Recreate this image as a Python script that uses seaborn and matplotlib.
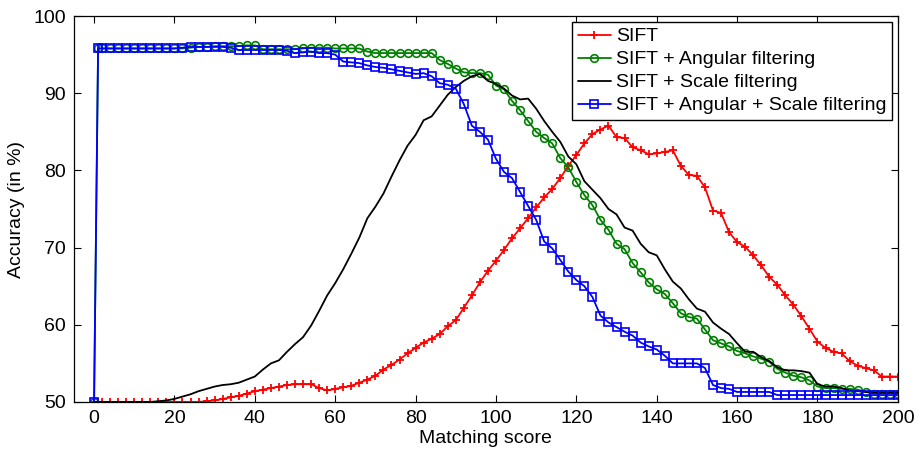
import matplotlib
matplotlib.use("Agg")
import matplotlib.pyplot as plt
import seaborn as sns

sns.set_style("ticks")
plt.rcParams['font.family'] = ['Liberation Sans', 'DejaVu Sans']
plt.rcParams['font.size'] = 14
plt.rcParams['text.color'] = 'black'
plt.rcParams['axes.labelcolor'] = 'black'
plt.rcParams['xtick.color'] = 'black'
plt.rcParams['ytick.color'] = 'black'

# matching score (x) and accuracy in % for each method
score = [0, 1] + list(range(2, 201, 2))

sift = [50.0, 50.0,
        50.0, 50.0, 50.0, 50.0, 50.0, 50.0, 50.0, 50.0, 50.0, 50.0,
        50.0, 50.0, 50.0, 50.1, 50.2, 50.4, 50.6, 50.8, 51.1, 51.4,
        51.6, 51.8, 52.0, 52.2, 52.3, 52.3, 52.3, 51.8, 51.5, 51.7,
        51.9, 52.1, 52.5, 52.9, 53.4, 54.2, 54.8, 55.5, 56.3, 57.0,
        57.7, 58.2, 58.8, 59.8, 60.6, 62.2, 63.8, 65.5, 67.0, 68.3,
        69.7, 71.2, 72.5, 73.8, 75.2, 76.5, 77.6, 79.0, 80.6, 82.0,
        83.5, 84.7, 85.3, 85.8, 84.3, 84.2, 83.0, 82.6, 82.1, 82.2,
        82.4, 82.6, 80.6, 79.4, 79.3, 77.8, 74.8, 74.5, 72.0, 70.7,
        70.1, 69.0, 67.7, 66.2, 65.2, 63.8, 62.6, 61.1, 59.5, 57.8,
        57.0, 56.5, 56.3, 55.3, 54.7, 54.4, 54.1, 53.3, 53.3, 53.3]

sift_angular = [50.0, 95.8,
                95.8, 95.8, 95.8, 95.8, 95.8, 95.8, 95.8, 95.8, 95.8, 95.8,
                95.8, 95.9, 96.0, 96.0, 96.1, 96.1, 96.1, 96.1, 96.2, 96.2,
                95.7, 95.7, 95.7, 95.7, 95.7, 95.8, 95.9, 95.9, 95.9, 95.8,
                95.8, 95.8, 95.8, 95.4, 95.2, 95.2, 95.2, 95.2, 95.2, 95.2,
                95.2, 95.2, 94.3, 93.8, 93.2, 92.7, 92.6, 92.6, 92.4, 91.0,
                90.5, 89.0, 87.8, 86.4, 85.0, 84.2, 83.5, 81.6, 80.4, 78.5,
                76.8, 75.5, 73.6, 72.3, 70.5, 69.8, 68.0, 66.8, 65.5, 64.6,
                64.0, 62.8, 61.5, 61.0, 60.8, 59.4, 58.0, 57.6, 57.2, 56.6,
                56.3, 55.9, 55.6, 55.2, 54.3, 53.8, 53.4, 53.2, 52.8, 52.0,
                51.8, 51.8, 51.7, 51.7, 51.6, 51.3, 51.1, 51.1, 51.1, 51.1]

sift_scale = [50.0, 50.0,
              50.0, 50.0, 50.0, 50.0, 50.0, 50.0, 50.0, 50.1, 50.2, 50.4,
              50.7, 51.0, 51.4, 51.7, 52.0, 52.2, 52.3, 52.5, 52.9, 53.3,
              54.2, 55.0, 55.4, 56.5, 57.5, 58.4, 59.9, 61.8, 63.8, 65.4,
              67.2, 69.2, 71.3, 73.8, 75.3, 77.0, 79.2, 81.3, 83.2, 84.6,
              86.5, 87.0, 88.4, 89.8, 90.8, 91.6, 92.2, 92.5, 91.6, 91.2,
              90.6, 89.7, 89.2, 89.3, 88.0, 86.4, 85.0, 83.7, 81.8, 80.8,
              78.6, 77.5, 76.4, 75.0, 74.3, 72.6, 72.2, 70.5, 69.4, 69.0,
              67.2, 65.6, 64.7, 63.3, 62.1, 61.7, 60.3, 59.5, 58.8, 57.6,
              56.5, 56.5, 55.8, 55.3, 54.5, 54.1, 54.1, 54.0, 53.8, 52.3,
              52.0, 52.0, 51.8, 51.5, 51.4, 51.3, 51.2, 51.2, 51.2, 51.2]

sift_angular_scale = [50.0, 95.8,
                      95.8, 95.8, 95.8, 95.8, 95.8, 95.8, 95.8, 95.8, 95.8, 95.8,
                      95.9, 96.0, 96.0, 96.0, 96.0, 96.0, 95.9, 95.6, 95.6, 95.6,
                      95.6, 95.6, 95.6, 95.5, 95.2, 95.3, 95.4, 95.2, 95.2, 95.0,
                      94.1, 94.0, 93.9, 93.6, 93.4, 93.3, 93.1, 92.9, 92.7, 92.5,
                      92.6, 92.2, 91.3, 91.1, 90.6, 88.6, 85.8, 85.0, 84.0, 81.5,
                      79.8, 79.0, 77.2, 75.4, 73.6, 70.8, 69.9, 68.4, 66.9, 65.8,
                      65.0, 63.6, 61.2, 60.3, 59.7, 59.1, 58.6, 57.7, 57.2, 56.8,
                      56.0, 55.0, 55.0, 55.0, 55.0, 54.4, 52.2, 51.8, 51.7, 51.3,
                      51.3, 51.3, 51.3, 51.3, 50.9, 50.9, 50.9, 50.9, 50.9, 50.9,
                      50.9, 50.9, 50.9, 50.9, 50.9, 50.9, 50.9, 50.9, 50.9, 50.9]

fig = plt.figure(figsize=(9.19, 4.53), dpi=100)
ax = fig.add_axes([0.0805, 0.1126, 0.8965, 0.852])

sns.lineplot(x=score, y=sift, ax=ax, color="red", marker="+", markersize=6,
             markeredgecolor="red", markeredgewidth=1.3, linewidth=1.3, label="SIFT")
sns.lineplot(x=score, y=sift_angular, ax=ax, color="green", marker="o", markersize=5.5,
             markerfacecolor="none", markeredgecolor="green", markeredgewidth=1.2,
             linewidth=1.3, label="SIFT + Angular filtering")
sns.lineplot(x=score, y=sift_scale, ax=ax, color="black", linewidth=1.3,
             label="SIFT + Scale filtering")
sns.lineplot(x=score, y=sift_angular_scale, ax=ax, color="blue", marker="s", markersize=5.5,
             markerfacecolor="none", markeredgecolor="blue", markeredgewidth=1.2,
             linewidth=1.3, label="SIFT + Angular + Scale filtering")

ax.set_xlim(-5, 200)
ax.set_ylim(50, 100)
ax.set_xticks(range(0, 201, 20))
ax.set_yticks(range(50, 101, 10))
ax.tick_params(direction="in", top=True, right=True, length=5, width=0.8,
               labelsize=14, pad=6, colors="black")
for s in ax.spines.values():
    s.set_linewidth(0.9)
    s.set_color("black")

ax.set_xlabel("Matching score", fontsize=14, labelpad=2)
ax.set_ylabel("Accuracy (in %)", fontsize=14, labelpad=6)

leg = ax.legend(loc="upper right", fontsize=14, frameon=True, fancybox=False,
                edgecolor="black", framealpha=1, borderaxespad=0.3,
                handlelength=1.7, handletextpad=0.25, labelspacing=0.28,
                borderpad=0.3)
leg.get_frame().set_linewidth(1.0)

fig.savefig("out.png", dpi=100)
